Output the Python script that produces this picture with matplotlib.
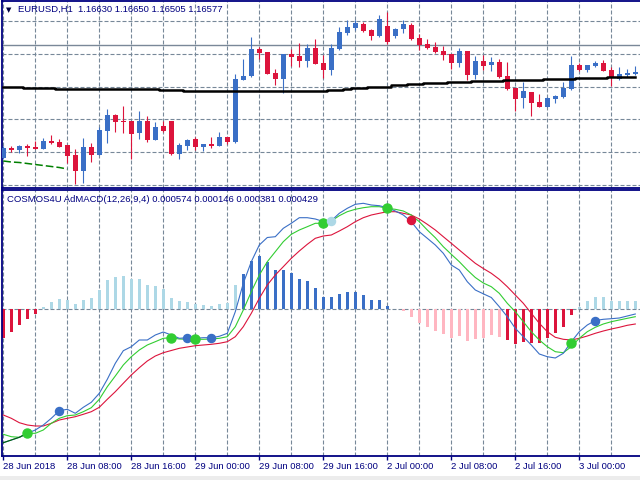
import numpy as np
import matplotlib
matplotlib.use("Agg")
import matplotlib.pyplot as plt
from matplotlib.patches import Rectangle

plt.rcParams['font.family'] = ['Liberation Sans', 'DejaVu Sans']

# EURUSD H1 candles, 28 Jun 2018 00:00 onwards (one row per hour)
opens = [1.1572, 1.1582, 1.1580, 1.1584, 1.1583, 1.1581, 1.1589, 1.1588, 1.1585, 1.1575,
         1.1559, 1.1583, 1.1575, 1.1599, 1.1615, 1.1609, 1.1609, 1.1597, 1.1609, 1.1590,
         1.1604, 1.1609, 1.1576, 1.1584, 1.1591, 1.1583, 1.1586, 1.1584, 1.1593, 1.1588,
         1.1650, 1.1654, 1.1681, 1.1678, 1.1657, 1.1651, 1.1676, 1.1674, 1.1669, 1.1682,
         1.1667, 1.1660, 1.1681, 1.1697, 1.1702, 1.1706, 1.1700, 1.1694, 1.1704, 1.1694,
         1.1701, 1.1705, 1.1692, 1.1686, 1.1683, 1.1679, 1.1676, 1.1667, 1.1679, 1.1655,
         1.1669, 1.1665, 1.1668, 1.1654, 1.1642, 1.1632, 1.1638, 1.1628, 1.1623, 1.1631,
         1.1633, 1.1641, 1.1665, 1.1660, 1.1664, 1.1667, 1.1660, 1.1651, 1.1655, 1.1656]
highs = [1.1584, 1.1584, 1.1585, 1.1586, 1.1589, 1.1592, 1.1595, 1.1591, 1.1585, 1.1581,
         1.1592, 1.1587, 1.1603, 1.1621, 1.1616, 1.1624, 1.1609, 1.1619, 1.1614, 1.1608,
         1.1609, 1.1609, 1.1587, 1.1591, 1.1593, 1.1586, 1.1593, 1.1598, 1.1593, 1.1656,
         1.1671, 1.1693, 1.1683, 1.1678, 1.1661, 1.1676, 1.1681, 1.1687, 1.1686, 1.1691,
         1.1675, 1.1686, 1.1703, 1.1710, 1.1710, 1.1708, 1.1701, 1.1715, 1.1718, 1.1702,
         1.1710, 1.1707, 1.1696, 1.1691, 1.1688, 1.1684, 1.1676, 1.1682, 1.1679, 1.1674,
         1.1675, 1.1673, 1.1671, 1.1668, 1.1642, 1.1648, 1.1638, 1.1636, 1.1633, 1.1635,
         1.1648, 1.1674, 1.1667, 1.1665, 1.1669, 1.1670, 1.1663, 1.1663, 1.1661, 1.1664]
lows = [1.1571, 1.1578, 1.1577, 1.1574, 1.1581, 1.1581, 1.1586, 1.1583, 1.1567, 1.1546,
        1.1547, 1.1568, 1.1575, 1.1587, 1.1598, 1.1597, 1.1571, 1.1591, 1.1588, 1.1590,
        1.1598, 1.1575, 1.1571, 1.1580, 1.1580, 1.1579, 1.1582, 1.1584, 1.1586, 1.1587,
        1.1650, 1.1653, 1.1671, 1.1656, 1.1645, 1.1637, 1.1664, 1.1663, 1.1663, 1.1666,
        1.1652, 1.1655, 1.1680, 1.1695, 1.1700, 1.1698, 1.1690, 1.1693, 1.1686, 1.1692,
        1.1697, 1.1690, 1.1680, 1.1681, 1.1677, 1.1670, 1.1661, 1.1663, 1.1650, 1.1651,
        1.1660, 1.1659, 1.1652, 1.1640, 1.1619, 1.1622, 1.1614, 1.1623, 1.1623, 1.1627,
        1.1632, 1.1640, 1.1659, 1.1658, 1.1663, 1.1659, 1.1644, 1.1650, 1.1653, 1.1655]
closes = [1.1582, 1.1580, 1.1584, 1.1582, 1.1581, 1.1589, 1.1587, 1.1583, 1.1574, 1.1559,
          1.1583, 1.1575, 1.1600, 1.1615, 1.1608, 1.1608, 1.1596, 1.1609, 1.1590, 1.1603,
          1.1599, 1.1576, 1.1585, 1.1590, 1.1583, 1.1586, 1.1584, 1.1593, 1.1588, 1.1651,
          1.1654, 1.1681, 1.1677, 1.1656, 1.1651, 1.1676, 1.1673, 1.1669, 1.1682, 1.1666,
          1.1660, 1.1682, 1.1698, 1.1703, 1.1707, 1.1699, 1.1694, 1.1711, 1.1688, 1.1701,
          1.1706, 1.1691, 1.1685, 1.1682, 1.1678, 1.1675, 1.1667, 1.1679, 1.1655, 1.1669,
          1.1664, 1.1668, 1.1653, 1.1641, 1.1631, 1.1639, 1.1627, 1.1623, 1.1632, 1.1634,
          1.1642, 1.1665, 1.1660, 1.1665, 1.1667, 1.1659, 1.1652, 1.1656, 1.1657, 1.1658]

# black moving average (stepped) and the green dashed line
ma_black = [1.1643] * 3 + [1.1642] * 4 + [1.1641] * 13 + [1.16403] * 3 + [1.16393] * 18 + \
           [1.1640] * 2 + [1.1641] + [1.1642] * 2 + [1.16433] * 3 + [1.16447] * 2 + [1.1646] * 2 + \
           [1.16473] * 3 + [1.16483] * 3 + [1.1649] * 4 + [1.1650] * 5 + [1.1651] * 4 + \
           [1.1652] * 4 + [1.1653] * 4
green_top = [1.1569, 1.1568, 1.15675, 1.15665, 1.15655, 1.15645, 1.15635, 1.15625, 1.1561]
bid_level = 1.1685

# AdMACD indicator
hist = [-29, -23, -16, -10, -5, 2, 7, 10, 9, 5, 9, 11, 19, 29, 32, 33, 30, 30, 24, 23,
        20, 11, 8, 7, 5, 4, 3, 5, 6, 24, 35, 48, 53, 47, 39, 39, 36, 30, 28, 21,
        12, 12, 15, 17, 17, 14, 9, 9, 3, 0, -2, -8, -14, -18, -22, -25, -29, -27, -32, -30,
        -29, -26, -28, -31, -35, -33, -34, -34, -29, -24, -18, -6, 2, 8, 12, 12, 8, 8, 8, 8]
hist = [h * 1e-5 for h in hist]
hist_kind = "RRRRR" + "L" * 25 + "B" * 20 + "P" * 13 + "R" * 9 + "L" * 8

macd_blue = [-0.001337, -0.00131, -0.001283, -0.001243, -0.00121, -0.00116, -0.001093, -0.001017,
             -0.001003, -0.001043, -0.000983, -0.000933, -0.000843, -0.000703, -0.000543, -0.000417,
             -0.000377, -0.00031, -0.00031, -0.00026, -0.00023, -0.00026, -0.000293, -0.000287,
             -0.000293, -0.000287, -0.000287, -0.000273, -0.000243, -0.000027, 0.000257, 0.000473,
             0.00064, 0.000715, 0.000723, 0.000807, 0.000857, 0.000913, 0.000913, 0.0009,
             0.000875, 0.000883, 0.000957, 0.001007, 0.001047, 0.001057, 0.00104, 0.001033,
             0.001013, 0.00098, 0.00094, 0.000873, 0.000773, 0.000707, 0.00064, 0.000557,
             0.00044, 0.00039, 0.000273, 0.00019, 0.000152, 0.000115, 0.000023, -0.000077,
             -0.000193, -0.000277, -0.00036, -0.00045, -0.000477, -0.00049, -0.000443, -0.000327,
             -0.000227, -0.00016, -0.000115, -0.000103, -0.000097, -0.00009, -0.00007, -0.00005]
macd_green = [-0.001253, -0.001277, -0.001283, -0.001243, -0.001243, -0.00121, -0.001143, -0.001093,
              -0.001067, -0.00106, -0.001027, -0.000987, -0.000903, -0.000777, -0.00067, -0.00056,
              -0.000477, -0.00041, -0.00036, -0.000327, -0.000293, -0.000287, -0.0003, -0.000303,
              -0.000303, -0.000303, -0.0003, -0.000293, -0.000277, -0.000177, -0.00001, 0.000173,
              0.00034, 0.000473, 0.000573, 0.000673, 0.000747, 0.00079, 0.000823, 0.000857,
              0.000857, 0.00088, 0.000933, 0.000973, 0.000997, 0.001013, 0.001023, 0.001023,
              0.001007, 0.000997, 0.00098, 0.00094, 0.000873, 0.00079, 0.000713, 0.000623,
              0.000547, 0.000473, 0.00039, 0.000315, 0.00026, 0.000223, 0.000157, 0.000057,
              -0.000027, -0.000127, -0.000227, -0.00031, -0.000377, -0.000427, -0.000437, -0.000377,
              -0.000293, -0.000227, -0.000183, -0.00015, -0.000127, -0.00011, -0.000093, -0.000077]
macd_red = [-0.00106, -0.001093, -0.001137, -0.00116, -0.00117, -0.00117, -0.001143, -0.00111,
            -0.001093, -0.001077, -0.001053, -0.001027, -0.000983, -0.000903, -0.000827, -0.000743,
            -0.00066, -0.000587, -0.00052, -0.00047, -0.000437, -0.000415, -0.000393, -0.00038,
            -0.000367, -0.00036, -0.000353, -0.000343, -0.000327, -0.000277, -0.000177, -0.000043,
            0.000107, 0.00024, 0.00034, 0.000423, 0.000507, 0.00058, 0.000647, 0.000707,
            0.00073, 0.00074, 0.00078, 0.000823, 0.000873, 0.000913, 0.00094, 0.000957,
            0.000973, 0.000973, 0.000957, 0.00094, 0.0009, 0.000847, 0.00079, 0.000723,
            0.000657, 0.00059, 0.000523, 0.000457, 0.000405, 0.000357, 0.000297, 0.000223,
            0.00014, 0.000057, -0.000043, -0.000143, -0.000227, -0.000283, -0.000303, -0.00031,
            -0.000293, -0.00027, -0.000243, -0.00022, -0.0002, -0.000183, -0.000163, -0.00015]

dot_bars = [3, 7, 21, 23, 24, 26, 40, 41, 48, 51, 71, 74]
dot_vals = [-0.001243, -0.001017, -0.000287, -0.000287, -0.000303, -0.000287,
            0.000857, 0.000883, 0.001007, 0.00089, -0.000343, -0.000117]
dot_kind = "GBGBGBGLGRGB"

tick_bars = [0, 8, 16, 24, 32, 40, 48, 56, 64, 72]
tick_labels = ["28 Jun 2018", "28 Jun 08:00", "28 Jun 16:00", "29 Jun 00:00", "29 Jun 08:00",
               "29 Jun 16:00", "2 Jul 00:00", "2 Jul 08:00", "2 Jul 16:00", "3 Jul 00:00"]

BLUE = '#3a6fc6'
RED = '#dc143c'
LBLUE = '#add8e6'
PINK = '#ffb6c1'
LIME = '#32cd32'
NAVY = '#000080'
GRID = '#778899'
colmap = {'R': RED, 'L': LBLUE, 'B': BLUE, 'P': PINK, 'G': LIME}

W, H = 640.0, 480.0
fig = plt.figure(figsize=(6.4, 4.8), dpi=100)
fig.patch.set_facecolor('white')

ax1 = fig.add_axes([2 / W, 1 - 188 / H, 1.0, 187 / H])
ax2 = fig.add_axes([2 / W, 1 - 455.7 / H, 1.0, 265.7 / H])

x = np.arange(len(opens))
xlim = ((2 - 3.3) / 8, (642 - 3.3) / 8)

for ax in (ax1, ax2):
    ax.set_xlim(*xlim)
    ax.set_facecolor('white')
    for s in ['left', 'top', 'bottom']:
        ax.spines[s].set_color(NAVY)
        ax.spines[s].set_linewidth(1.3)
    ax.spines['right'].set_visible(False)
    ax.set_yticks([])
    for b in range(0, 80, 4):
        ax.axvline(b, color=GRID, lw=0.8, dashes=(3.6, 1.8), zorder=0)

# ---- price panel
ax1.set_ylim(1.1730 - 188e-4, 1.1730 - 1e-4)
ax1.set_xticks([])
for k in range(6):
    ax1.axhline(1.1730 - (20.7 + 32.9 * k) * 1e-4, color=GRID, lw=0.8, dashes=(3.6, 1.8), zorder=0)
ax1.axhline(bid_level, color='#7a8898', lw=1.0, zorder=1)

o = np.array(opens); c = np.array(closes)
cols = [BLUE if cc >= oo else RED for oo, cc in zip(o, c)]
ax1.vlines(x, lows, highs, colors=cols, lw=0.8, zorder=3)
body = np.maximum(np.abs(c - o), 0.0001)
ax1.bar(x, body, bottom=np.minimum(o, c), width=0.64, color=cols, zorder=4)

ax1.plot(x, ma_black, color='black', lw=1.8, drawstyle='steps-mid', zorder=5)
ax1.plot(x[:len(green_top)], green_top, color='#008000', lw=1.1, dashes=(5, 2), zorder=5)

# ---- indicator panel
ax2.set_ylim((309 - 455.7) * 1e-5, (309 - 190) * 1e-5)
ax2.axhline(0, color=GRID, lw=0.8, dashes=(3.6, 1.8), zorder=0)
ax2.bar(x, hist, width=0.36, color=[colmap[k] for k in hist_kind], zorder=2)
ax2.plot(x, macd_red, color=RED, lw=0.8, zorder=3)
ax2.plot(x, macd_green, color=LIME, lw=0.8, zorder=3)
ax2.plot(x, macd_blue, color=BLUE, lw=0.8, zorder=3)
ax2.plot(x[:4], macd_blue[:4], color='#006400', lw=0.8, zorder=3)
for b, v, k in zip(dot_bars, dot_vals, dot_kind):
    ms = 6.5 if k == 'G' else 5.8
    ax2.plot(b, v, 'o', color=colmap[k], ms=ms, mec=colmap[k], zorder=5)

ax2.set_xticks(tick_bars)
ax2.set_xticklabels(tick_labels, fontsize=6.8, color=NAVY, ha='left')
ax2.tick_params(axis='x', length=3, width=1, color=NAVY, pad=1.5, direction='out')
ax2.tick_params(axis='y', length=0)

# ---- titles and frame decorations
fig.text(6 / W, 1 - 10 / H, '\u25bc', fontsize=5, family='DejaVu Sans', color='#000040', va='center')
fig.text(18 / W, 1 - 9.3 / H, 'EURUSD,H1  1.16630 1.16650 1.16505 1.16577',
         fontsize=6.8, color=NAVY, va='center')
fig.text(7 / W, 1 - 199.7 / H, 'COSMOS4U AdMACD(12,26,9,4) 0.000574 0.000146 0.000381 0.000429',
         fontsize=6.8, color=NAVY, va='center')
fig.patches.append(Rectangle((0, 0), 1, 4 / H, transform=fig.transFigure,
                             facecolor='#ececec', edgecolor='none'))

fig.savefig('out.png', dpi=100)
